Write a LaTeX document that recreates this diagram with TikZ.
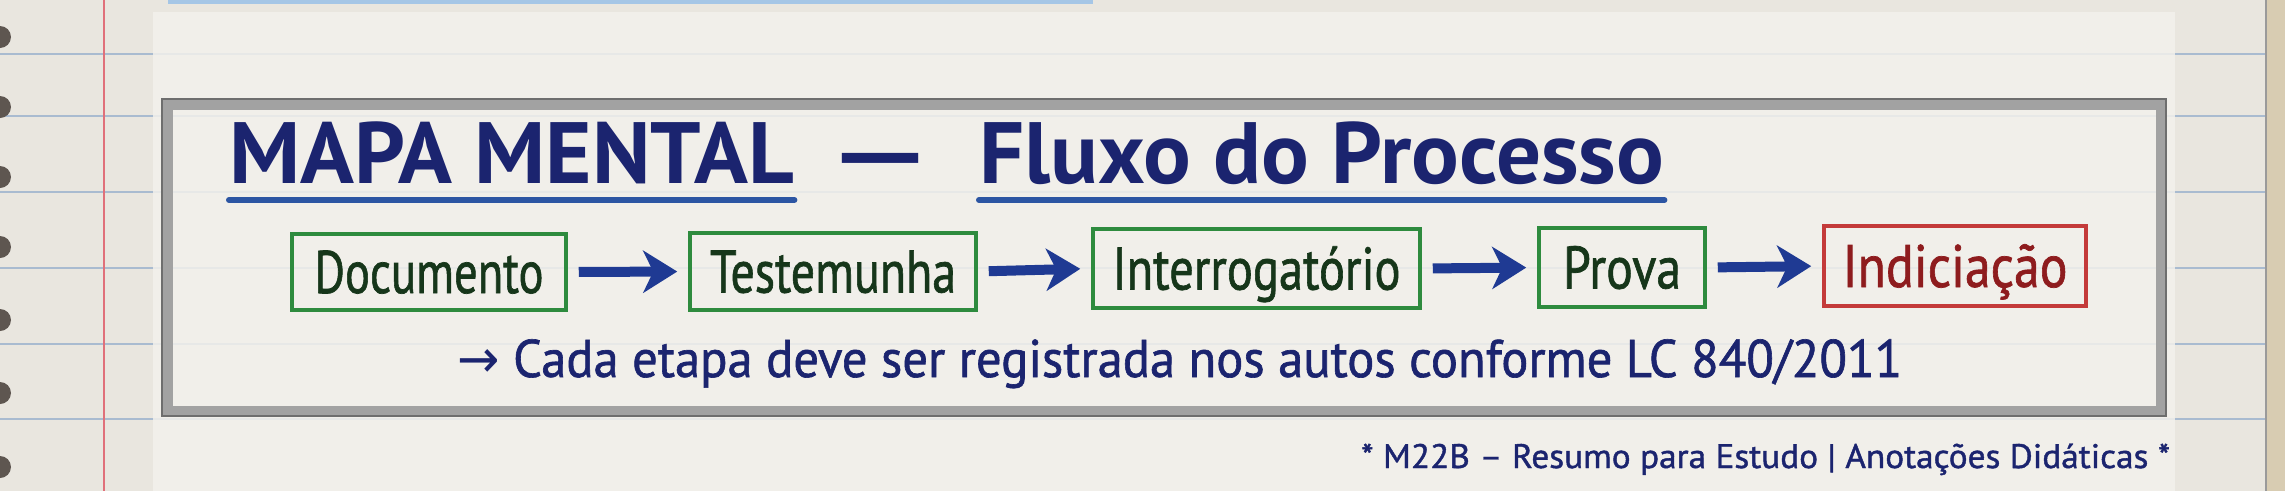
\documentclass[tikz,border=0pt]{standalone}
\usepackage{fontspec}
\usepackage{graphicx}
\setmainfont{PT Sans}
\newfontfamily\symfont{DejaVu Sans}
\newfontfamily\heavyfam[FakeBold=1.2]{PT Sans}
\usetikzlibrary{arrows.meta}
\definecolor{paper}{HTML}{E9E6DF}
\definecolor{cardc}{HTML}{F3F1EC}
\definecolor{ruled}{HTML}{A9BBD0}
\definecolor{marginc}{HTML}{E0707A}
\definecolor{holec}{HTML}{5E5650}
\definecolor{topblue}{HTML}{A5C6E6}
\definecolor{edgec}{HTML}{D8CCB2}
\definecolor{framec}{HTML}{A2A2A2}
\definecolor{framedark}{HTML}{6E6E6E}
\definecolor{navy}{HTML}{1B246F}
\definecolor{ulblue}{HTML}{2C55A3}
\definecolor{arrowblue}{HTML}{1F3A93}
\definecolor{boxgreen}{HTML}{2E8B3E}
\definecolor{textgreen}{HTML}{16361A}
\definecolor{boxred}{HTML}{C43A3A}
\definecolor{textred}{HTML}{8E1C1E}
\newlength\fitlen
\newcommand\fitw[2]{\settowidth\fitlen{#2}\pgfmathsetmacro\fitr{#1/\fitlen}\scalebox{\fitr}[1]{#2}}
\newcommand\titlefont{\fontsize{87}{87}\selectfont\bfseries}
\newcommand\boxfont{\fontsize{60}{60}\selectfont\heavyfam}
\newcommand\notefont{\fontsize{53}{53}\selectfont\heavyfam}
\newcommand\footfont{\fontsize{34}{34}\selectfont\heavyfam}
\begin{document}
\begin{tikzpicture}[x=1pt,y=-1pt,
  stepbox/.style={draw=boxgreen, line width=3.5pt, inner sep=0pt,
    text height=42pt, text depth=0pt, text=textgreen},
  endbox/.style={stepbox, draw=boxred, text=textred},
  flowarrow/.style={draw=arrowblue, line width=10pt,
    -{Stealth[length=34pt, width=42pt, inset=10pt]},
    shorten <=11pt, shorten >=11pt},
  uline/.style={draw=ulblue, line width=6pt, line cap=round},
  txt/.style={anchor=base west, inner sep=0pt, text=navy}]
\useasboundingbox (0,0) rectangle (2285,491);
% paper
\fill[paper] (0,0) rectangle (2285,491);
\foreach \yy in {54,116,192,268,344,419}
  \draw[ruled, line width=2pt] (0,\yy) -- (2266,\yy);
\fill[cardc, opacity=0.85] (153,12) rectangle (2175,491);
\draw[marginc, line width=2.5pt] (104,0) -- (104,491);
\foreach \yy in {37,107,177,247,320,393,467}
  \fill[holec] (0,\yy) circle (11pt);
\fill[topblue] (168,0) rectangle (1093,4);
\fill[edgec] (2266,0) rectangle (2285,491);
\draw[framedark!70, line width=1.5pt] (2266,0) -- (2266,491);
% frame
\draw[framec, line width=11pt] (167,104) rectangle (2161,411);
\draw[framedark, line width=1.5pt] (162,99) rectangle (2166,416);
% title
\node[txt] (t1) at (229,183) {\fitw{565}{\titlefont MAPA MENTAL}};
\node[txt] (t2) at (828,183) {\fitw{104}{\titlefont —}};
\node[txt] (t3) at (979,183) {\fitw{685}{\titlefont Fluxo do Processo}};
\draw[uline] ([yshift=-17pt]t1.base west) -- ([yshift=-17pt]t1.base east);
\draw[uline] ([yshift=-17pt]t3.base west) -- ([yshift=-17pt]t3.base east);
% flow boxes
\node[stepbox, minimum width=274pt, minimum height=76pt] (doc) at (429,272)
  {\fitw{229}{\boxfont Documento}};
\node[stepbox, minimum width=286pt, minimum height=77pt] (test) at (833,271.5)
  {\fitw{246}{\boxfont Testemunha}};
\node[stepbox, minimum width=327pt, minimum height=79pt] (inter) at (1256.5,268.5)
  {\fitw{288}{\boxfont Interrogatório}};
\node[stepbox, minimum width=166pt, minimum height=79pt] (prova) at (1622,267.5)
  {\fitw{118}{\boxfont Prova}};
\node[endbox, minimum width=262pt, minimum height=80pt] (indic) at (1955,266)
  {\fitw{225}{\boxfont Indiciação}};
\draw[flowarrow] (doc.east) -- (test.west);
\draw[flowarrow] (test.east) -- (inter.west);
\draw[flowarrow] (inter.east) -- (prova.west);
\draw[flowarrow] (prova.east) -- (indic.west);
% note
\node[txt] (note) at (457,377)
  {\fitw{1445}{\notefont{\symfont →} Cada etapa deve ser registrada nos autos conforme LC 840/2011}};
% footer
\node[txt] (foot) at (1361,468)
  {\fitw{809}{\footfont * M22B – Resumo para Estudo | Anotações Didáticas *}};
\end{tikzpicture}
\end{document}
